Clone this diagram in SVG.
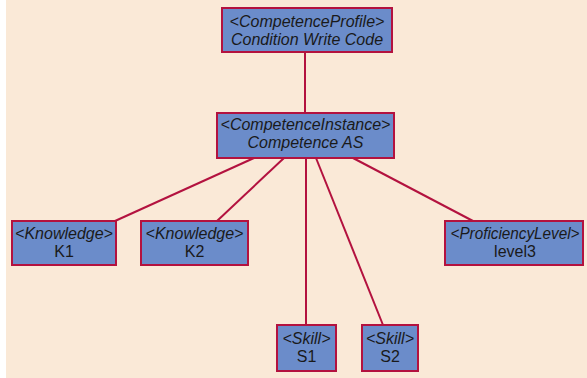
<svg xmlns="http://www.w3.org/2000/svg" width="587" height="378" viewBox="0 0 587 378">
  <style>
    .box { fill: #6B8CCA; stroke: #B3123F; stroke-width: 2; }
    .edge { stroke: #B3123F; stroke-width: 2; fill: none; }
    text { font-family: "Liberation Sans", Arial, sans-serif; font-size: 16px; fill: #1A1A1A; text-anchor: middle; }
    .st { font-style: italic; }
  </style>
  <rect x="0" y="0" width="587" height="378" fill="#FFFFFF"/>
  <rect x="6" y="0" width="581" height="378" fill="#FAE9D7"/>

  <g id="connectors">
    <line class="edge" x1="305" y1="52" x2="305" y2="113"/>
    <line class="edge" x1="254" y1="158" x2="115" y2="221"/>
    <line class="edge" x1="284" y1="158" x2="217" y2="221"/>
    <line class="edge" x1="306" y1="158" x2="306" y2="325"/>
    <line class="edge" x1="316" y1="158" x2="383" y2="325"/>
    <line class="edge" x1="353" y1="158" x2="473" y2="221"/>
  </g>

  <g id="competence-profile">
    <rect class="box" x="222" y="8" width="170" height="44"/>
    <text class="st" x="307" y="27">&lt;CompetenceProfile&gt;</text>
    <text class="st" x="307" y="45">Condition Write Code</text>
  </g>

  <g id="competence-instance">
    <rect class="box" x="217" y="113" width="177" height="45"/>
    <text class="st" x="305.5" y="130">&lt;CompetenceInstance&gt;</text>
    <text class="st" x="305.5" y="148">Competence AS</text>
  </g>

  <g id="knowledge-k1">
    <rect class="box" x="12" y="221" width="104" height="44"/>
    <text class="st" x="64" y="239">&lt;Knowledge&gt;</text>
    <text x="64" y="257">K1</text>
  </g>

  <g id="knowledge-k2">
    <rect class="box" x="141" y="221" width="107" height="44"/>
    <text class="st" x="194.5" y="239">&lt;Knowledge&gt;</text>
    <text x="194.5" y="257">K2</text>
  </g>

  <g id="proficiency-level3">
    <rect class="box" x="445" y="221" width="138" height="44"/>
    <text class="st" x="515" y="239" textLength="129" lengthAdjust="spacingAndGlyphs">&lt;ProficiencyLevel&gt;</text>
    <text x="515" y="257">level3</text>
  </g>

  <g id="skill-s1">
    <rect class="box" x="277" y="325" width="59" height="46"/>
    <text class="st" x="306.5" y="344">&lt;Skill&gt;</text>
    <text x="306.5" y="362">S1</text>
  </g>

  <g id="skill-s2">
    <rect class="box" x="362" y="325" width="56" height="46"/>
    <text class="st" x="390" y="344">&lt;Skill&gt;</text>
    <text x="390" y="362">S2</text>
  </g>
</svg>
